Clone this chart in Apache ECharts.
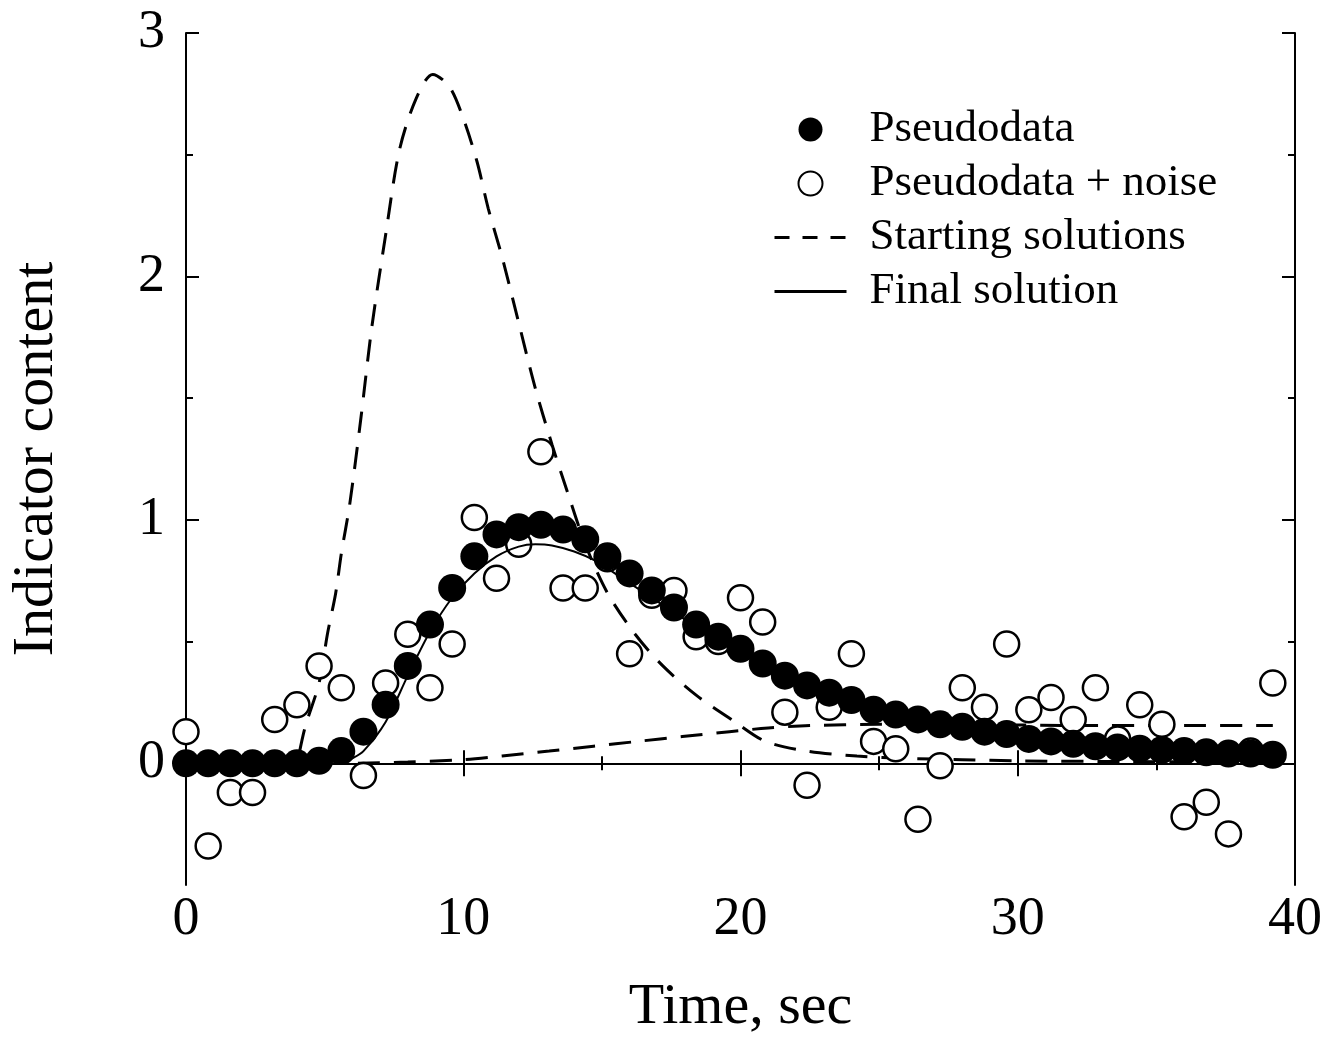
<!DOCTYPE html>
<html>
<head>
<meta charset="utf-8">
<script src="https://cdn.jsdelivr.net/npm/echarts/dist/echarts.min.js"></script>
<style>
  html, body { margin: 0; padding: 0; background: #fff; }
  #main { width: 1340px; height: 1042px; }
</style>
</head>
<body>
<div id="main"></div>
<script>
var FONT = '"Liberation Serif", "Times New Roman", serif';

// sample times (sec) shared by both scatter sets
var sampleTimes = [0, 0.8, 1.6, 2.4, 3.2, 4, 4.8, 5.6, 6.4, 7.2, 8, 8.8, 9.6, 10.4, 11.2, 12, 12.8, 13.6, 14.4, 15.2,
    16, 16.8, 17.6, 18.4, 19.2, 20, 20.8, 21.6, 22.4, 23.2, 24, 24.8, 25.6, 26.4, 27.2, 28, 28.8, 29.6, 30.4, 31.2,
    32, 32.8, 33.6, 34.4, 35.2, 36, 36.8, 37.6, 38.4, 39.2];

var pseudodata = [0, 0, 0, 0, 0, 0, 0.01, 0.05, 0.13, 0.24, 0.40, 0.57, 0.72, 0.85, 0.94, 0.97, 0.98, 0.96, 0.92, 0.85,
    0.78, 0.71, 0.64, 0.57, 0.52, 0.47, 0.41, 0.36, 0.32, 0.29, 0.26, 0.22, 0.20, 0.18, 0.16, 0.15, 0.13, 0.12, 0.10, 0.09,
    0.08, 0.07, 0.065, 0.06, 0.055, 0.05, 0.045, 0.04, 0.04, 0.035];

var noisy = [0.13, -0.34, -0.12, -0.12, 0.18, 0.24, 0.40, 0.31, -0.05, 0.33, 0.53, 0.31, 0.49, 1.01, 0.76, 0.90, 1.28, 0.72, 0.72, 0.84,
    0.45, 0.69, 0.71, 0.52, 0.50, 0.68, 0.58, 0.21, -0.09, 0.23, 0.45, 0.09, 0.06, -0.23, -0.01, 0.31, 0.23, 0.49, 0.22, 0.27,
    0.18, 0.31, 0.10, 0.24, 0.16, -0.22, -0.16, -0.29, 0.05, 0.33];

// starting solution 1 (tall peak)
var startATimes = [4.1, 4.3, 4.8, 5.1, 5.4, 5.6, 5.9, 6.3, 6.7, 7.2, 7.7, 8.3, 8.9, 9.5, 10.0, 10.5, 10.9, 11.4, 12.0, 12.6,
    13.2, 13.8, 14.4, 15.2, 16.2, 17.2, 18.4, 19.8, 20.9, 22.4, 24.2, 26, 28, 30, 34, 39.2];
var startAValues = [0.05, 0.15, 0.33, 0.53, 0.70, 0.86, 1.06, 1.41, 1.79, 2.17, 2.52, 2.73, 2.83, 2.78, 2.65, 2.47, 2.28, 2.08, 1.81, 1.54,
    1.31, 1.10, 0.90, 0.70, 0.53, 0.40, 0.28, 0.17, 0.09, 0.05, 0.03, 0.02, 0.015, 0.01, 0.007, 0.005];

// starting solution 2 (slow rise)
var startBTimes = [6.2, 8, 10, 11.4, 13.1, 14.7, 16.3, 17.9, 19.6, 21, 22.5, 25, 28, 32, 36, 39.2];
var startBValues = [0, 0.005, 0.015, 0.03, 0.05, 0.07, 0.09, 0.11, 0.13, 0.145, 0.155, 0.16, 0.16, 0.155, 0.155, 0.155];

// final solution
var finalTimes = [0, 5.6, 6.0, 6.4, 7.2, 8.0, 8.8, 9.6, 10.4, 11.2, 12.0, 12.6, 13.2, 14.0, 14.8, 15.6, 16.4, 17.2, 18, 19,
    20, 21, 22, 23, 24, 25, 26, 27, 28, 29, 30, 31, 32, 34, 36, 38, 39.2];
var finalValues = [0, 0, 0.02, 0.05, 0.17, 0.36, 0.54, 0.68, 0.78, 0.85, 0.89, 0.90, 0.895, 0.87, 0.83, 0.77, 0.71, 0.65, 0.59, 0.52,
    0.45, 0.39, 0.34, 0.29, 0.25, 0.21, 0.18, 0.155, 0.13, 0.11, 0.095, 0.08, 0.07, 0.05, 0.04, 0.03, 0.025];

var yMajor = [0, 1, 2, 3];
var yMinor = [0.5, 1.5, 2.5];

function zip(xs, ys) {
    return xs.map(function (x, i) { return [x, ys[i]]; });
}

var chart = echarts.init(document.getElementById('main'));

var axisLine = { show: true, lineStyle: { color: '#000', width: 2 } };

function xAxisOf(pos, withLabels) {
    return {
        type: 'value', position: pos, min: 0, max: 40, interval: 10,
        axisLine: axisLine,
        axisTick: { show: true, inside: true, length: 13, lineStyle: { color: '#000', width: 2 } },
        minorTick: { show: true, splitNumber: 2, length: 7, lineStyle: { color: '#000', width: 2 } },
        splitLine: { show: false },
        minorSplitLine: { show: false },
        axisLabel: { show: withLabels, color: '#000', fontSize: 54, fontFamily: FONT, margin: 8 },
        name: withLabels ? 'Time, sec' : '',
        nameLocation: 'middle',
        nameGap: 94,
        nameTextStyle: { color: '#000', fontSize: 58, fontFamily: FONT }
    };
}

function yAxisOf(pos, ticks, len, withLine, withLabels) {
    return {
        type: 'value', position: pos, offset: 0, min: -0.5, max: 3, interval: 0.5,
        axisLine: withLine ? axisLine : { show: false },
        axisTick: { show: true, inside: true, length: len, customValues: ticks, lineStyle: { color: '#000', width: 2 } },
        splitLine: { show: false },
        axisLabel: { show: withLabels, customValues: yMajor, color: '#000', fontSize: 54, fontFamily: FONT, margin: 21 },
        name: withLabels ? 'Indicator content' : '',
        nameLocation: 'middle',
        nameGap: 120,
        nameTextStyle: { color: '#000', fontSize: 58, fontFamily: FONT }
    };
}

var dashStyle = { color: '#000', width: 3, type: [22, 14] };
// line series: hide the legend dot
var hiddenDot = { color: '#000', opacity: 0 };

var option = {
    animation: false,
    backgroundColor: '#fff',
    grid: { left: 186, right: 45, top: 33, bottom: 154, containLabel: false },
    xAxis: [xAxisOf('bottom', true), xAxisOf('top', false)],
    yAxis: [
        yAxisOf('left', yMajor, 13, true, true),
        yAxisOf('left', yMinor, 7, false, false),
        yAxisOf('right', yMajor, 13, true, false),
        yAxisOf('right', yMinor, 7, false, false)
    ],
    legend: {
        orient: 'vertical',
        left: 768,
        top: 102,
        itemWidth: 72,
        itemHeight: 24,
        itemGap: 9,
        selectedMode: false,
        data: [
            'Pseudodata',
            'Pseudodata + noise',
            { name: 'Starting solutions', lineStyle: { type: [15, 13], width: 3 } },
            { name: 'Final solution', lineStyle: { width: 3 } }
        ],
        textStyle: { color: '#000', fontSize: 45, lineHeight: 45, fontFamily: FONT, padding: [0, 0, 0, 18] }
    },
    series: [
        {
            name: 'Starting solutions', type: 'line', xAxisIndex: 0, yAxisIndex: 0,
            data: zip(startATimes, startAValues), symbol: 'none', smooth: 0.3,
            itemStyle: hiddenDot, lineStyle: dashStyle, z: 2
        },
        {
            name: 'Starting solutions', type: 'line', xAxisIndex: 0, yAxisIndex: 0,
            data: zip(startBTimes, startBValues), symbol: 'none', smooth: 0.3,
            itemStyle: hiddenDot, lineStyle: dashStyle, z: 2
        },
        {
            name: 'Pseudodata + noise', type: 'scatter', xAxisIndex: 0, yAxisIndex: 0,
            data: zip(sampleTimes, noisy), symbol: 'circle', symbolSize: 25,
            itemStyle: { color: '#fff', borderColor: '#000', borderWidth: 2.5, opacity: 1 }, z: 3
        },
        {
            name: 'Pseudodata', type: 'scatter', xAxisIndex: 0, yAxisIndex: 0,
            data: zip(sampleTimes, pseudodata), symbol: 'circle', symbolSize: 28,
            itemStyle: { color: '#000', opacity: 1 }, z: 4
        },
        {
            name: 'Final solution', type: 'line', xAxisIndex: 0, yAxisIndex: 0,
            data: zip(finalTimes, finalValues), symbol: 'none', smooth: 0.3,
            itemStyle: hiddenDot, lineStyle: { color: '#000', width: 2 }, z: 5
        }
    ]
};

chart.setOption(option);
</script>
</body>
</html>
